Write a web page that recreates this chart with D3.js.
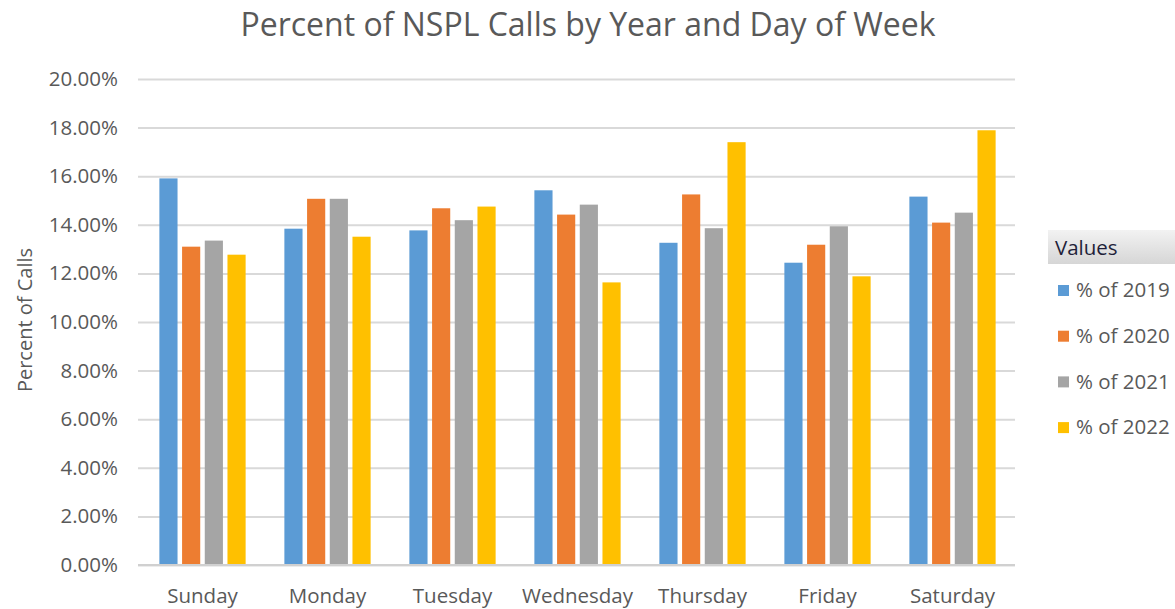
<html>
<head>
<meta charset="utf-8">
<script src="https://d3js.org/d3.v7.min.js"></script>
<style>
  body { margin: 0; background: #fff; }
  text { font-family: "Open Sans", sans-serif; fill: #595959; }
</style>
</head>
<body>
<script>
  // categories and series (percent of calls)
  var days = ["Sunday", "Monday", "Tuesday", "Wednesday", "Thursday", "Friday", "Saturday"];
  var years = ["% of 2019", "% of 2020", "% of 2021", "% of 2022"];
  var pct2019 = [15.91, 13.84, 13.77, 15.42, 13.26, 12.44, 15.16];
  var pct2020 = [13.10, 15.07, 14.68, 14.42, 15.25, 13.18, 14.09];
  var pct2021 = [13.35, 15.07, 14.19, 14.83, 13.86, 13.94, 14.50];
  var pct2022 = [12.77, 13.51, 14.75, 11.63, 17.40, 11.88, 17.89];
  var yTicks = [0, 2, 4, 6, 8, 10, 12, 14, 16, 18, 20];
  var colors = ["#5B9BD5", "#ED7D31", "#A5A5A5", "#FFC000"];

  var series = [pct2019, pct2020, pct2021, pct2022];

  var w = 1175, h = 609;
  var fs = "20.5px";
  var svg = d3.select("body").append("svg")
    .attr("width", w)
    .attr("height", h);

  //scales
  var x = d3.scaleBand()
    .domain(days)
    .range([140, 1015])
    .paddingInner(0.31)
    .paddingOuter(0.155);

  var x1 = d3.scaleBand()
    .domain(d3.range(years.length))
    .range([0, x.bandwidth()])
    .padding(0.2)
    .paddingOuter(0);

  var y = d3.scaleLinear()
    .domain([0, 20])
    .range([565, 79]);

  // gridlines + tick labels
  var yAxis = d3.axisLeft(y)
    .tickValues(yTicks)
    .tickSize(-(1015 - 138))
    .tickPadding(20)
    .tickFormat(function(d) { return d.toFixed(2) + "%"; });

  var gy = svg.append("g")
    .attr("transform", "translate(138,0)")
    .call(yAxis);
  gy.select(".domain").remove();
  gy.selectAll(".tick line").attr("stroke", "#d9d9d9").attr("stroke-width", 2);
  gy.selectAll(".tick text")
    .style("font-size", fs)
    .attr("fill", "#595959");

  // bars
  var groups = svg.append("g").selectAll("g")
    .data(days)
    .enter().append("g")
    .attr("transform", function(d) { return "translate(" + x(d) + ",0)"; });

  groups.selectAll("rect")
    .data(function(d, i) { return series.map(function(s, k) { return {k: k, v: s[i]}; }); })
    .enter().append("rect")
    .attr("x", function(d) { return x1(d.k); })
    .attr("width", x1.bandwidth())
    .attr("y", function(d) { return y(d.v); })
    .attr("height", function(d) { return y(0) - y(d.v); })
    .attr("fill", function(d) { return colors[d.k]; });

  // x axis
  var xAxis = d3.axisBottom(x).tickSize(0).tickPadding(23);
  var gx = svg.append("g")
    .attr("transform", "translate(0," + y(0) + ")")
    .call(xAxis);
  gx.select(".domain").attr("d", "M138,0H1015").attr("stroke", "#d0d0d0").attr("stroke-width", 2);
  gx.selectAll(".tick text")
    .style("font-size", fs)
    .attr("fill", "#595959");

  // title
  svg.append("text")
    .attr("x", 588)
    .attr("y", 36)
    .attr("text-anchor", "middle")
    .style("font-size", "32px")
    .text("Percent of NSPL Calls by Year and Day of Week");

  // y label
  svg.append("text")
    .attr("transform", "translate(32,320) rotate(-90)")
    .attr("text-anchor", "middle")
    .style("font-size", "20px")
    .text("Percent of Calls");

  // legend
  var defs = svg.append("defs");
  var grad = defs.append("linearGradient").attr("id", "hdr").attr("x1", 0).attr("y1", 0).attr("x2", 0).attr("y2", 1);
  grad.append("stop").attr("offset", "0%").attr("stop-color", "#f2f2f2");
  grad.append("stop").attr("offset", "100%").attr("stop-color", "#d6d6d6");

  svg.append("rect")
    .attr("x", 1048).attr("y", 230)
    .attr("width", 130).attr("height", 34)
    .attr("fill", "url(#hdr)");
  svg.append("text")
    .attr("x", 1055).attr("y", 255)
    .style("font-size", fs)
    .style("fill", "#1f1f3a")
    .text("Values");

  var leg = svg.append("g").selectAll("g")
    .data(years)
    .enter().append("g")
    .attr("transform", function(d, i) { return "translate(1058," + (290 + i * 45.7) + ")"; });
  leg.append("rect")
    .attr("x", 0).attr("y", -5)
    .attr("width", 11).attr("height", 11)
    .attr("fill", function(d, i) { return colors[i]; });
  leg.append("text")
    .attr("x", 18).attr("y", 0)
    .attr("dy", "0.35em")
    .style("font-size", fs)
    .text(function(d) { return d; });
</script>
</body>
</html>
